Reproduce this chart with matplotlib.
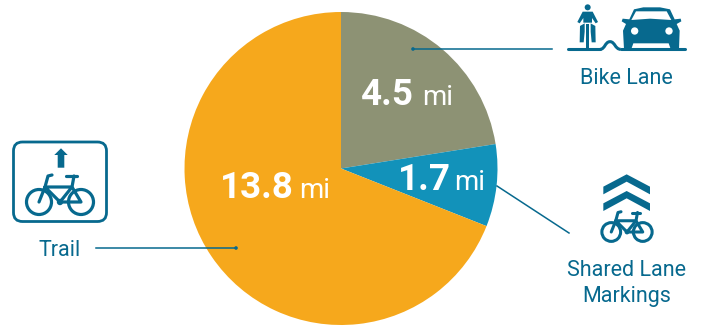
import matplotlib
matplotlib.use("Agg")
import matplotlib.pyplot as plt
from matplotlib.patches import Circle, FancyBboxPatch, Polygon, PathPatch
from matplotlib.path import Path

plt.rcParams['font.family'] = ['Roboto', 'DejaVu Sans']

W, H = 704, 328
BLUE = '#07698E'

segments = ['Bike Lane', 'Shared Lane Markings', 'Trail']
miles = [4.5, 1.7, 13.8]
colors = ['#8D9274', '#1292BA', '#F6A81C']
value_labels = ['4.5', '1.7', '13.8']
unit = 'mi'

fig = plt.figure(figsize=(W / 100, H / 100), dpi=100, facecolor='white')

# pie gets its own square axes, centred at (341, 168) px
cx, cy, r = 341, 168.5, 156.5
ax_pie = fig.add_axes([(cx - r) / W, 1 - (cy + r) / H, 2 * r / W, 2 * r / H])
ax_pie.pie(miles, colors=colors, startangle=90, counterclock=False, radius=1)
ax_pie.set_xlim(-1, 1)
ax_pie.set_ylim(-1, 1)

# overlay in pixel coords, y pointing down
ax = fig.add_axes([0, 0, 1, 1])
ax.set_xlim(0, W)
ax.set_ylim(H, 0)
ax.axis('off')
ax.patch.set_alpha(0)


def poly(pts, color=BLUE, ox=0, oy=0, s=1 / 3):
    ax.add_patch(Polygon([(ox + x * s, oy + y * s) for x, y in pts],
                         closed=True, fc=color, ec='none'))


def stroke(pts, lw=2.0, ox=0, oy=0, s=1.0):
    ax.plot([ox + x * s for x, y in pts], [oy + y * s for x, y in pts],
            color=BLUE, lw=lw, solid_capstyle='round', solid_joinstyle='round')


def bike(ox, oy, s, lw):
    # wheels
    for wx in (-21, 21):
        ax.add_patch(Circle((ox + wx * s, oy), 12.5 * s, fc='none', ec=BLUE, lw=lw))
    # frame, fork, seat post, bars
    stroke([(-21, 0), (-15, -15), (12, -15), (0, 0), (-15, -15)], lw, ox, oy, s)
    stroke([(-15, -15), (-12, -26), (-8, -27)], lw, ox, oy, s)
    stroke([(14, -26), (12, -15), (21, 0), (0, 0)], lw, ox, oy, s)
    stroke([(6, -26), (17, -26)], lw, ox, oy, s)
    ax.add_patch(Circle((ox, oy), 3.2 * s, fc=BLUE, ec='none'))


# leader lines
for x0, y0, x1, y1, dot in [(96, 248, 236, 248, True),
                            (552, 49, 413, 49, True),
                            (569, 233, 497, 186, False)]:
    ax.plot([x0, x1], [y0, y1], color=BLUE, lw=1.1)
    if dot:
        ax.add_patch(Circle((x1, y1), 1.8, fc=BLUE, ec='none'))

# trail sign
ax.add_patch(FancyBboxPatch((13.5, 142), 93, 79.5, boxstyle='round,pad=0,rounding_size=9',
                            fc='white', ec=BLUE, lw=2.0))
poly([(54.3, 155), (61, 148.3), (67.7, 155), (64.3, 155), (64.3, 167.7), (57.7, 167.7), (57.7, 155)],
     s=1)
bike(60, 202, 1.0, 2.3)

# rider and car over the road line
ox = 550
stroke([(55, 148), (150, 148)], 2.2, ox, 0, 1 / 3)
road = Path([(ox + 150 / 3, 148 / 3), (ox + 165 / 3, 148 / 3), (ox + 165 / 3, 125 / 3),
             (ox + 180 / 3, 125 / 3), (ox + 195 / 3, 125 / 3), (ox + 195 / 3, 148 / 3),
             (ox + 212 / 3, 148 / 3)],
            [Path.MOVETO] + [Path.CURVE4] * 6)
ax.add_patch(PathPatch(road, fc='none', ec=BLUE, lw=2.2))
stroke([(212, 148), (405, 148)], 2.2, ox, 0, 1 / 3)
ax.add_patch(Circle((ox + 113 / 3, 22 / 3), 9 / 3, fc=BLUE, ec='none'))
poly([(98, 35), (128, 35), (144, 66), (137, 70), (126, 54), (126, 68), (100, 68),
      (100, 54), (89, 70), (82, 66)], ox=ox)
poly([(90, 78), (104, 70), (104, 95), (101, 127), (89, 127)], ox=ox)
poly([(136, 78), (122, 70), (122, 95), (125, 127), (137, 127)], ox=ox)
poly([(109, 72), (117, 72), (117, 146), (109, 146)], ox=ox)
poly([(222, 147), (219, 92), (228, 72), (215, 64), (218, 56), (238, 58), (252, 28),
      (280, 22), (330, 22), (360, 28), (374, 58), (392, 56), (394, 64), (380, 72),
      (389, 92), (387, 147), (362, 147), (356, 130), (250, 130), (244, 147)], ox=ox)
poly([(244, 60), (258, 34), (350, 34), (364, 60), (300, 56)], color='white', ox=ox)
for hx in (254, 357):
    ax.add_patch(Circle((ox + hx / 3, 93 / 3), 11 / 3, fc='white', ec='none'))

# chevrons and bike for shared lane
for dy in (0, 50):
    poly([(230, 28 + dy), (300, 65 + dy), (300, 88 + dy), (230, 50 + dy),
          (160, 88 + dy), (160, 65 + dy)], ox=ox, oy=165)
bike(627, 232, 0.75, 2.2)

# category names
ax.text(60, 251, 'Trail', color=BLUE, fontsize=15.5, ha='center', va='center')
ax.text(626.5, 79, 'Bike Lane', color=BLUE, fontsize=15.5, ha='center', va='center')
ax.text(626.5, 270.5, 'Shared Lane', color=BLUE, fontsize=15.5, ha='center', va='center')
ax.text(626.5, 296.5, 'Markings', color=BLUE, fontsize=15.5, ha='center', va='center')

# value labels on the slices
label_x = [(361, 422), (398, 454), (220, 299)]
label_y = [105, 190, 198]
for txt, (x0, x1), y in zip(value_labels, label_x, label_y):
    ax.text(x0, y, txt, color='white', fontsize=26.5, fontweight='bold', ha='left', va='baseline')
    ax.text(x1, y, unit, color='white', fontsize=20, ha='left', va='baseline')

fig.savefig('out.png', dpi=100)
